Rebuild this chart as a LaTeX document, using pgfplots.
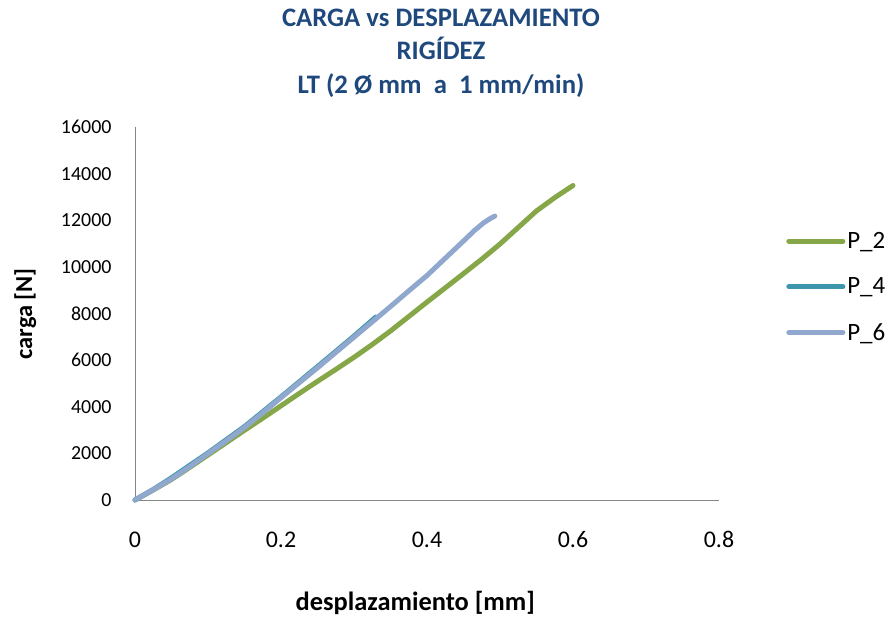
\documentclass[border=0pt]{standalone}
\usepackage{pgfplots}
\pgfplotsset{compat=1.18}
\usetikzlibrary{calc}
\usepackage{fontspec}
\setmainfont{Carlito}
\definecolor{titleblue}{RGB}{31,73,125}
\definecolor{pgreen}{RGB}{134,167,72}
\definecolor{pteal}{RGB}{61,150,172}
\definecolor{pblue}{RGB}{144,168,206}
\definecolor{axgray}{RGB}{134,134,134}
\begin{document}
\begin{tikzpicture}
\begin{axis}[
  scale only axis,
  width=584bp, height=373bp,
  xmin=0, xmax=0.8, ymin=0, ymax=16000,
  xtick={0,0.2,0.4,0.6,0.8},
  ytick={0,2000,4000,6000,8000,10000,12000,14000,16000},
  axis lines=left,
  axis line style={-, axgray, line width=0.8bp},
  major tick length=0pt,
  /pgf/number format/assume math mode=true,
  scaled y ticks=false,
  yticklabel style={/pgf/number format/fixed, /pgf/number format/1000 sep={}},
  xticklabel style={/pgf/number format/fixed},
  every x tick label/.append style={font=\fontsize{24}{26}\selectfont, yshift=-28bp},
  every y tick label/.append style={font=\fontsize{20}{22}\selectfont, xshift=-20bp},
  xlabel={\textbf{desplazamiento [mm]}},
  ylabel={\textbf{carga [N]}},
  xlabel style={font=\fontsize{26.5}{28}\selectfont, at={(rel axis cs:0.48,0)}, anchor=center, yshift=-103bp},
  ylabel style={font=\fontsize{24.5}{26}\selectfont, at={(rel axis cs:-0.188,0.499)}, anchor=center},
  legend style={draw=none, fill=none, at={(rel axis cs:1.115,0.571)}, anchor=west,
    font=\fontsize{25}{27}\selectfont, row sep=24bp, inner sep=0pt},
  legend cell align=left,
  legend image code/.code={\draw[#1, line width=5bp, line cap=round] (0bp,0bp) -- (54bp,0bp);},
  clip=false,
]
\addplot[pgreen, line width=5bp, line cap=round, line join=round] coordinates {
(0,0) (0.025,430) (0.05,880) (0.075,1400) (0.1,1930) (0.125,2460)
(0.15,2990) (0.175,3510) (0.2,4040) (0.225,4570) (0.25,5090) (0.275,5600)
(0.3,6120) (0.325,6670) (0.35,7250) (0.375,7870) (0.4,8490) (0.425,9100)
(0.45,9710) (0.475,10330) (0.5,10980) (0.525,11690) (0.55,12400)
(0.575,12970) (0.6,13490)};
\addlegendentry{P\_2}
\addplot[pteal, line width=5bp, line cap=round, line join=round] coordinates {
(0,0) (0.025,450) (0.05,950) (0.1,2020) (0.15,3150) (0.2,4420) (0.25,5720)
(0.3,7030) (0.33,7850)};
\addlegendentry{P\_4}
\addplot[pblue, line width=5bp, line cap=round, line join=round] coordinates {
(0,0) (0.01,180) (0.025,440) (0.05,900) (0.075,1430) (0.1,1990) (0.125,2540)
(0.15,3110) (0.175,3740) (0.2,4390) (0.225,5030) (0.25,5670) (0.275,6330)
(0.3,6985) (0.325,7640) (0.35,8300) (0.375,8970) (0.4,9630) (0.425,10370)
(0.45,11110) (0.465,11560) (0.478,11900) (0.487,12080) (0.493,12180)};
\addlegendentry{P\_6}
\end{axis}
\path (current axis.south west) ++(-135bp,-118bp) coordinate (pic-sw) rectangle ++(893bp,618bp) coordinate (pic-ne);
\node[font=\fontsize{26.8}{34}\selectfont\bfseries, text=titleblue, align=center, anchor=north]
  at ($(pic-sw)+(441bp,613bp)$) {CARGA vs DESPLAZAMIENTO\\RIGÍDEZ\\LT (2 Ø mm\ \ a\ \ 1 mm/min)};
\end{tikzpicture}
\end{document}
